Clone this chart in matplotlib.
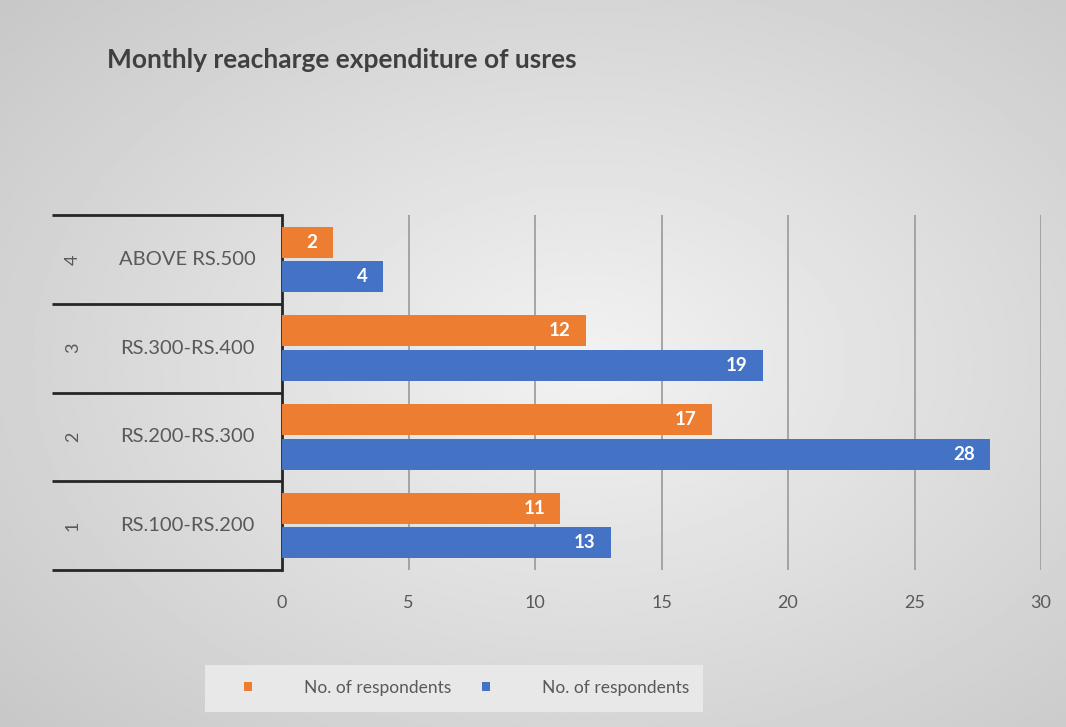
import numpy as np
import matplotlib.pyplot as plt
import matplotlib.transforms as mtransforms
from matplotlib.patches import Rectangle

# dados
codigos = ['1', '2', '3', '4']
faixas = ['RS.100-RS.200', 'RS.200-RS.300', 'RS.300-RS.400', 'ABOVE RS.500']
serie_laranja = [11, 17, 12, 2]
serie_azul = [13, 28, 19, 4]
legenda = ['No. of respondents', 'No. of respondents']
ticks_x = [0, 5, 10, 15, 20, 25, 30]

plt.rcParams['font.family'] = ['Lato', 'DejaVu Sans']

fig = plt.figure(figsize=(10.66, 7.27), dpi=100)
W, H = 1066, 727

# fundo com gradiente radial (estilo Excel)
bg = fig.add_axes([0, 0, 1, 1], zorder=-10)
yy, xx = np.mgrid[0:1:300j, 0:1:440j]
r = np.sqrt(((xx - 0.55) / 0.75) ** 2 + ((yy - 0.5) / 0.75) ** 2)
g = 0.95 - 0.17 * np.clip(r, 0, 1)
bg.imshow(g, cmap='gray', vmin=0, vmax=1, aspect='auto', extent=[0, 1, 0, 1])
bg.axis('off')

ax = fig.add_axes([282 / W, (H - 570) / H, (1041 - 282) / W, (570 - 215) / H])
ax.patch.set_alpha(0)

y = np.arange(len(faixas))
h = 0.35
off = 0.195
cor_laranja = '#ED7D31'
cor_azul = '#4472C4'

b1 = ax.barh(y + off, serie_laranja, height=h, color=cor_laranja, label=legenda[0], zorder=3)
b2 = ax.barh(y - off, serie_azul, height=h, color=cor_azul, label=legenda[1], zorder=3)

for barras in (b1, b2):
    for b in barras:
        v = b.get_width()
        ax.text(v - 0.6, b.get_y() + b.get_height() / 2, f'{v:g}', ha='right', va='center',
                color='white', fontsize=13.5, fontweight='bold', zorder=4)

ax.set_xlim(0, 30)
ax.set_ylim(-0.5, len(faixas) - 0.5)
ax.set_xticks(ticks_x)
ax.set_xticklabels([str(t) for t in ticks_x], color='#595959', fontsize=13)
ax.tick_params(axis='x', length=0, pad=18)
ax.set_yticks([])
ax.grid(axis='x', color='#999999', linewidth=1.2, zorder=0)
for s in ['top', 'right', 'bottom']:
    ax.spines[s].set_visible(False)
ax.spines['left'].set_color('#262626')
ax.spines['left'].set_linewidth(2)

# eixo de categorias em dois niveis
trans = mtransforms.blended_transform_factory(fig.transFigure, ax.transData)
for lim in np.arange(-0.5, len(faixas), 1.0):
    ax.plot([52 / W, 282 / W], [lim, lim], transform=trans, color='#262626',
            linewidth=2, clip_on=False, solid_capstyle='butt')
for i in range(len(faixas)):
    ax.text(187 / W, y[i], faixas[i], transform=trans, ha='center', va='center',
            color='#595959', fontsize=14.5)
    ax.text(73 / W, y[i], codigos[i], transform=trans, ha='center', va='center',
            color='#595959', fontsize=13, rotation=90)

fig.text(107 / W, 1 - 60 / H, 'Monthly reacharge expenditure of usres', ha='left',
         va='center', fontsize=19, fontweight='bold', color='#404040')

# legenda
fig.add_artist(Rectangle((205 / W, 1 - 712 / H), (703 - 205) / W, (712 - 665) / H,
                         transform=fig.transFigure, facecolor='#e8e8e8',
                         edgecolor='none', zorder=-5))
leg = fig.legend(handles=[b1, b2], labels=legenda, loc='center left',
                 bbox_to_anchor=(244 / W, 1 - 688 / H), ncol=2, frameon=False,
                 fontsize=12.5, handlelength=0.45, handleheight=0.45, handletextpad=3.0,
                 columnspacing=1.8, borderpad=0, borderaxespad=0, labelcolor='#595959')

fig.savefig('out.png', dpi=100)
